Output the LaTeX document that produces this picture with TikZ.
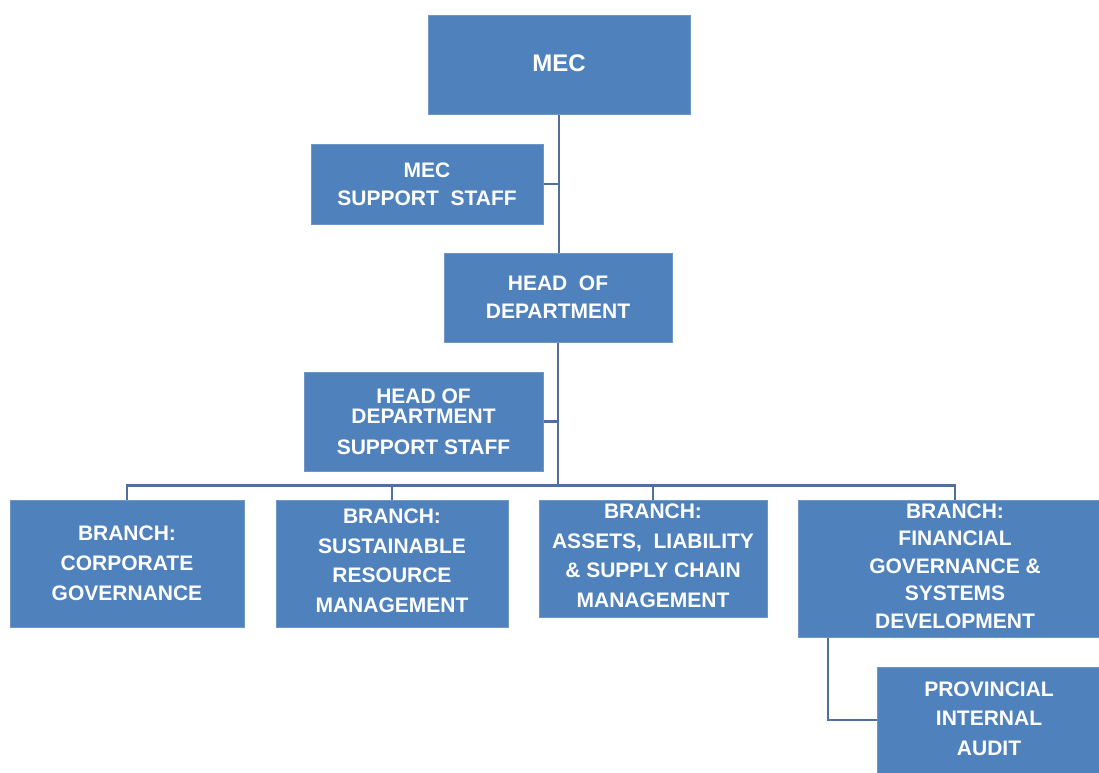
\documentclass[tikz,border=0pt]{standalone}
\usepackage{fontspec}
\setmainfont{Liberation Sans}
\definecolor{boxfill}{HTML}{4F81BD}
\definecolor{boxline}{HTML}{7096C8}
\definecolor{conn}{HTML}{4F6F9C}
\begin{document}
\begin{tikzpicture}[x=1pt,y=-1pt,
  box/.style={rectangle, fill=boxfill, draw=boxline, line width=1pt, text=white,
    align=center, inner sep=0pt, font=\bfseries\fontsize{21}{30}\selectfont},
  conline/.style={draw=conn, line width=2.2pt}]
\useasboundingbox (0,0) rectangle (1099,772);
\clip (0,0) rectangle (1099,772);
% boxes
\node[box, minimum width=262, minimum height=99, font=\bfseries\fontsize{24}{28}\selectfont] (mec) at (559,64.5) {\raisebox{2pt}{MEC}};
\node[box, minimum width=232, minimum height=80, font=\bfseries\fontsize{21}{28}\selectfont] (mecs) at (427,184) {MEC\\SUPPORT\ \ STAFF};
\node[box, minimum width=228, minimum height=89, font=\bfseries\fontsize{21}{28}\selectfont] (hod) at (558,297.5) {HEAD\ \ OF\\DEPARTMENT};
\node[box, minimum width=239, minimum height=99] (hods) at (423.5,421.5) {HEAD OF\\[-10pt]DEPARTMENT\\[1pt]SUPPORT STAFF};
\node[box, minimum width=234, minimum height=127] (b1) at (127,563.5) {BRANCH:\\CORPORATE\\GOVERNANCE};
\node[box, minimum width=232, minimum height=127, font=\bfseries\fontsize{21}{29.5}\selectfont] (b2) at (392,563.5) {BRANCH:\\SUSTAINABLE\\RESOURCE\\MANAGEMENT\\[-24pt]\rule{0pt}{1pt}};
\node[box, minimum width=228, minimum height=117, font=\bfseries\fontsize{21}{29.5}\selectfont] (b3) at (653,558.5) {BRANCH:\\ASSETS,\ \ LIABILITY\\\&\ SUPPLY CHAIN\\MANAGEMENT\\[-24pt]\rule{0pt}{1pt}};
\node[box, minimum width=314, minimum height=137, font=\bfseries\fontsize{21}{27.5}\selectfont] (b4) at (955,568.5) {BRANCH:\\FINANCIAL\\GOVERNANCE \&\\SYSTEMS\\DEVELOPMENT\\[-22pt]\rule{0pt}{1pt}};
\node[box, minimum width=224, minimum height=106, font=\bfseries\fontsize{21}{29.5}\selectfont] (pia) at (989,720) {PROVINCIAL\\INTERNAL\\AUDIT\\[-26pt]\rule{0pt}{1pt}};
% connectors
\coordinate (bar) at (558,485.5);
\draw[conline] (mec.south) -- (mec.south |- hod.north);
\draw[conline] (mecs.east) -- (mecs.east -| hod.north);
\draw[conline] (hod.south) -- (hod.south |- bar);
\draw[conline] (hods.east) -- (hods.east -| hod.south);
\draw[conline] (b1.north) -- (b1.north |- bar) -| (b4.north);
\draw[conline] (b2.north) -- (b2.north |- bar);
\draw[conline] (b3.north) -- (b3.north |- bar);
\draw[conline] ([xshift=-127pt]b4.south) |- (pia.west);
\end{tikzpicture}
\end{document}
